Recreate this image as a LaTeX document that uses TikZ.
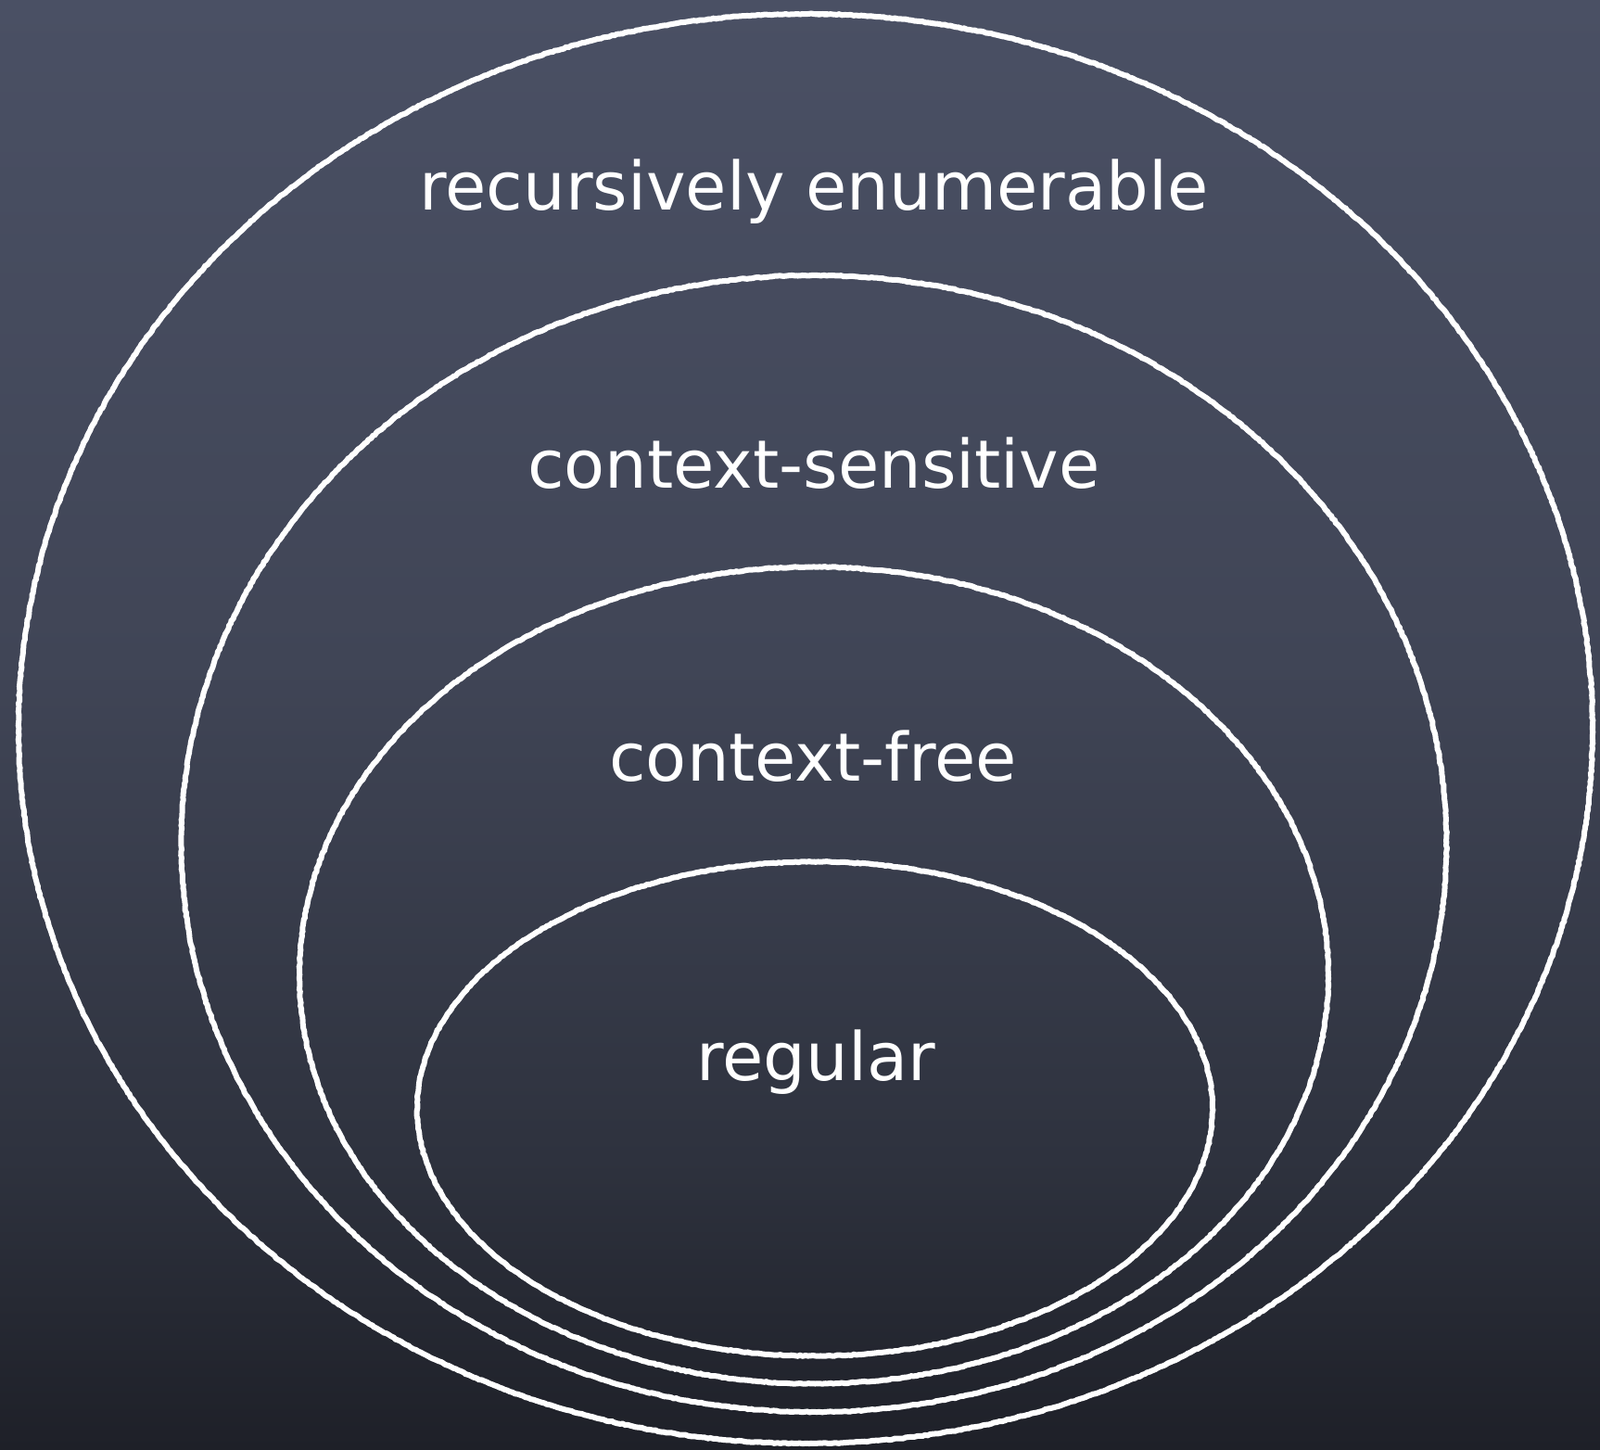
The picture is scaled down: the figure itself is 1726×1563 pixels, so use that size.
\documentclass[tikz,border=0pt]{standalone}
\usepackage{fontspec}
\setmainfont{DejaVu Sans}
\usetikzlibrary{shapes.geometric,decorations.pathmorphing}
\definecolor{boardtop}{RGB}{74,80,100}
\definecolor{boardmid}{RGB}{64,69,86}
\definecolor{boardlow}{RGB}{46,50,62}
\definecolor{boardbot}{RGB}{30,32,40}
% the path fills the middle 25bp--75bp of the shading
\pgfdeclareverticalshading{board}{100bp}{color(0bp)=(boardbot); color(25bp)=(boardbot);
  color(35bp)=(boardlow); color(52bp)=(boardmid); color(75bp)=(boardtop); color(100bp)=(boardtop)}
\begin{document}
\begin{tikzpicture}[x=1pt,y=-1pt,
    chalk/.style={ellipse,draw=white,line width=6pt,inner sep=0pt,
      decorate,decoration={random steps,segment length=3pt,amplitude=0.5pt}},
    lang/.style={text=white,anchor=base,font=\fontsize{72}{86}\selectfont}]
  \shade[shading=board] (0,0) rectangle (1726,1563);
  \useasboundingbox (0,0) rectangle (1726,1563);
  \node[chalk,minimum width=1698pt,minimum height=1542pt] (re) at (869,786) {};
  \node[chalk,minimum width=1365pt,minimum height=1226pt] (cs) at (878,910) {};
  \node[chalk,minimum width=1110pt,minimum height=881pt] (cf) at (878,1052) {};
  \node[chalk,minimum width=858pt,minimum height=533pt] (reg) at (879,1196) {};
  \node[lang] (relabel) at (878,226) {recursively enumerable};
  \node[lang] (cslabel) at (878,526) {context-sensitive};
  \node[lang] (cflabel) at (877,842) {context-free};
  \node[lang] (reglabel) at (880,1165) {regular};
\end{tikzpicture}
\end{document}
